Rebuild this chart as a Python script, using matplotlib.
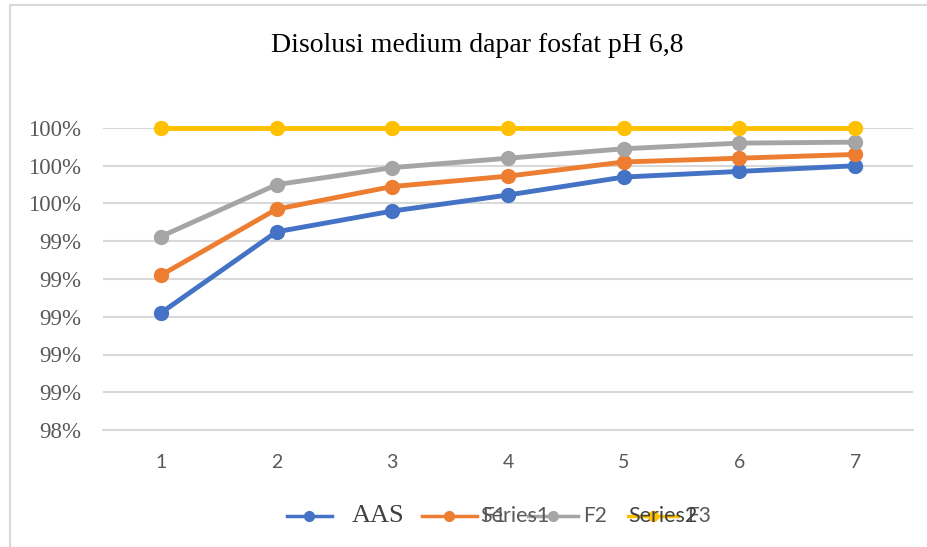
import numpy as np
import matplotlib
matplotlib.use("Agg")
import matplotlib.pyplot as plt
from matplotlib.ticker import PercentFormatter, MultipleLocator
from matplotlib.patches import Rectangle
from matplotlib.lines import Line2D

# data (percent)
x_vals = [1, 2, 3, 4, 5, 6, 7]
aas = [99.02, 99.45, 99.56, 99.645, 99.74, 99.77, 99.80]
f1 = [99.22, 99.57, 99.69, 99.745, 99.82, 99.84, 99.86]
f2 = [99.425, 99.70, 99.79, 99.84, 99.89, 99.92, 99.925]
f3 = [100.0, 100.0, 100.0, 100.0, 100.0, 100.0, 100.0]
series_names = ["AAS", "F1", "F2", "F3"]
colors = ["#4472C4", "#ED7D31", "#A5A5A5", "#FFC000"]
title_txt = "Disolusi medium dapar fosfat pH 6,8"

W, H = 928, 547
fig = plt.figure(figsize=(W/100, H/100), dpi=100)
ax = fig.add_axes([103/W, 1-430/H, 810/W, 302/H])

for vals, c, nm in zip([aas, f1, f2, f3], colors, series_names):
    ax.plot(x_vals, vals, color=c, lw=3.5, marker="o", ms=10, label=nm,
            clip_on=False, solid_capstyle="round")

ax.set_xlim(0.5, 7.5)
ax.set_ylim(98.4, 100.0)
ax.yaxis.set_major_locator(MultipleLocator(0.2))
ax.yaxis.set_major_formatter(PercentFormatter(decimals=0))
ax.set_xticks(x_vals)
ax.grid(axis="y", color="#d9d9d9", lw=1.5)
ax.set_axisbelow(True)
for s in ["top", "right", "left"]:
    ax.spines[s].set_visible(False)
ax.spines["bottom"].set_color("#d9d9d9")
ax.spines["bottom"].set_linewidth(1.5)
ax.tick_params(length=0)
ax.tick_params(axis="y", pad=16, labelsize=16.5, labelcolor="#595959")
ax.tick_params(axis="x", pad=17, labelsize=14, labelcolor="#595959")
for t in ax.get_yticklabels():
    t.set_fontfamily("Liberation Serif")
for t in ax.get_xticklabels():
    t.set_fontfamily("Lato")

fig.text(477/W, 1-45/H, title_txt, ha="center", va="center",
         fontsize=20, family="Liberation Serif", color="#000000")

# legend, laid out by hand like the Excel export (pixel spots)
leg_y = 1 - 516/H
handle_x = [(287, 332), (422, 477), (528, 578), (628, 678)]
text_x = [352, 482, 583, 687]
for (x0, x1), tx, c, nm in zip(handle_x, text_x, colors, series_names):
    fig.add_artist(Line2D([x0/W, x1/W], [leg_y, leg_y], color=c, lw=2.5,
                          transform=fig.transFigure))
    fig.add_artist(Line2D([(x0+x1)/2/W], [leg_y], color=c, marker="o", ms=7,
                          transform=fig.transFigure))
    if nm == "AAS":
        fig.text(tx/W, leg_y, nm, ha="left", va="center", fontsize=19,
                 family="Liberation Serif", color="#404040")
    else:
        fig.text(tx/W, leg_y, nm, ha="left", va="center", fontsize=15,
                 family="Lato", color="#595959")

# stray overlapping labels as seen in the original export
fig.text(480/W, leg_y, "Series1", ha="left", va="center",
         fontsize=15.5, family="Lato", color="#595959")
fig.text(628/W, leg_y, "Series2", ha="left", va="center",
         fontsize=15.5, family="Lato", color="#404040")

# outer chart border
fig.patches.append(Rectangle((10/W, -0.1), 1.2, 1-5/H+0.1,
                             transform=fig.transFigure, fill=False,
                             ec="#d9d9d9", lw=1.5))

fig.savefig("out.png", dpi=100)
